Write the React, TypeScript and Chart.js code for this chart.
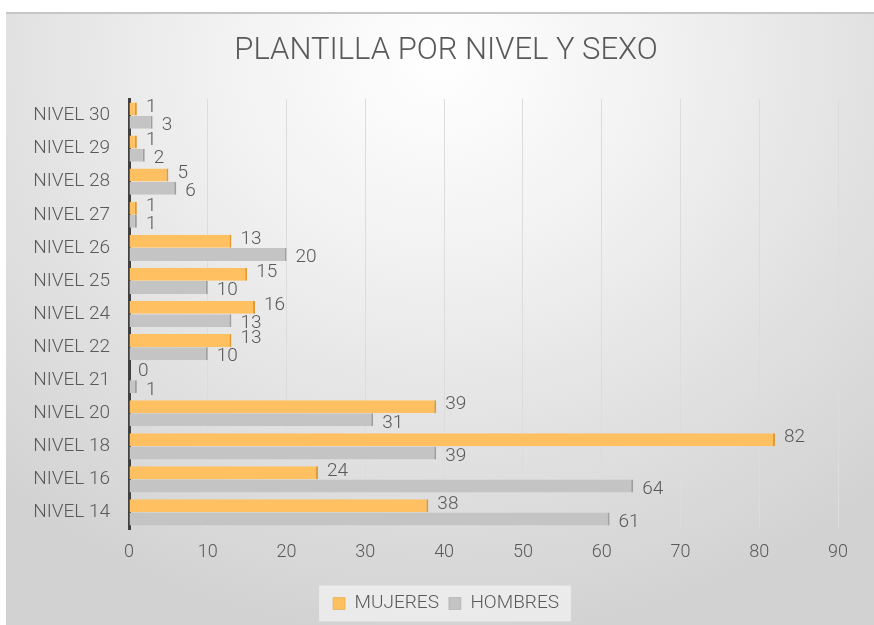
import React, { useEffect, useRef } from "react";
import { Chart, registerables } from "chart.js";

Chart.register(...registerables);

const categories = [
  "NIVEL 30", "NIVEL 29", "NIVEL 28", "NIVEL 27", "NIVEL 26", "NIVEL 25", "NIVEL 24",
  "NIVEL 22", "NIVEL 21", "NIVEL 20", "NIVEL 18", "NIVEL 16", "NIVEL 14",
];
const mujeres = [1, 1, 5, 1, 13, 15, 16, 13, 0, 39, 82, 24, 38];
const hombres = [3, 2, 6, 1, 20, 10, 13, 10, 1, 31, 39, 64, 61];
const xTicks = [0, 10, 20, 30, 40, 50, 60, 70, 80, 90];
const title = "PLANTILLA POR NIVEL Y SEXO";
const seriesNames = ["MUJERES", "HOMBRES"];

const TEXT = "#595959";
const FONT = "Roboto, 'Liberation Sans', sans-serif";

const labelPlugin = {
  id: "barLabels",
  afterDatasetsDraw(chart: any) {
    const ctx = chart.ctx;
    ctx.save();
    ctx.font = `300 19px ${FONT}`;
    ctx.fillStyle = TEXT;
    ctx.textAlign = "left";
    ctx.textBaseline = "middle";
    chart.data.datasets.forEach((ds: any, di: number) => {
      const meta = chart.getDatasetMeta(di);
      meta.data.forEach((bar: any, i: number) => {
        const v = ds.data[i];
        const dy = di === 0 ? -2 : 3;
        ctx.fillText(String(v), bar.x + 9, bar.y + dy);
      });
    });
    ctx.restore();
  },
};

const titlePlugin = {
  id: "manualTitle",
  afterDraw(chart: any) {
    const ctx = chart.ctx;
    ctx.save();
    ctx.font = `300 31px ${FONT}`;
    ctx.fillStyle = TEXT;
    ctx.textAlign = "center";
    ctx.textBaseline = "middle";
    ctx.fillText(title, chart.width / 2 + 6, 39);
    ctx.restore();
  },
};

const legendBgPlugin = {
  id: "legendBg",
  beforeDraw(chart: any) {
    const lg = chart.legend;
    if (!lg || !lg.legendHitBoxes || !lg.legendHitBoxes.length) return;
    const boxes = lg.legendHitBoxes;
    const first = boxes[0];
    const last = boxes[boxes.length - 1];
    const ctx = chart.ctx;
    ctx.save();
    ctx.fillStyle = "rgba(242,242,242,0.75)";
    const x0 = first.left - 14;
    const x1 = last.left + last.width + 12;
    const yc = first.top + first.height / 2;
    ctx.fillRect(x0, yc - 18, x1 - x0, 36);
    ctx.restore();
  },
};

export default function App() {
  const ref = useRef<HTMLCanvasElement | null>(null);

  useEffect(() => {
    document.body.style.margin = "0";
    const canvas = ref.current;
    if (!canvas) return;
    const chart = new Chart(canvas, {
      type: "bar",
      data: {
        labels: categories,
        datasets: [
          {
            label: seriesNames[0],
            data: mujeres,
            backgroundColor: "#FFC061",
            borderColor: "#E09A30",
            borderWidth: { top: 0, right: 2, bottom: 0, left: 0 },
            borderSkipped: false,
            categoryPercentage: 0.8,
            barPercentage: 0.98,
          },
          {
            label: seriesNames[1],
            data: hombres,
            backgroundColor: "#C4C4C4",
            borderColor: "#9E9E9E",
            borderWidth: { top: 0, right: 2, bottom: 0, left: 0 },
            borderSkipped: false,
            categoryPercentage: 0.8,
            barPercentage: 0.98,
          },
        ],
      },
      options: {
        indexAxis: "y",
        animation: false,
        responsive: false,
        devicePixelRatio: 1,
        layout: { padding: { left: 12, right: 0, top: 87, bottom: 2 } },
        plugins: {
          title: { display: false },
          legend: {
            position: "bottom",
            labels: {
              color: TEXT,
              font: { family: FONT, size: 19, weight: "300" as any },
              boxWidth: 12,
              boxHeight: 12,
              padding: 10,
            },
          },
          tooltip: { enabled: false },
        },
        scales: {
          x: {
            min: 0,
            max: 90,
            afterBuildTicks(scale: any) {
              scale.ticks = xTicks.map((v) => ({ value: v }));
            },
            afterFit(scale: any) {
              scale.height = 55;
            },
            ticks: {
              color: TEXT,
              font: { family: FONT, size: 18, weight: "300" as any },
              padding: 13,
            },
            grid: { color: "#dcdcdc", lineWidth: 1, drawTicks: false },
            border: { display: false },
          },
          y: {
            afterFit(scale: any) {
              scale.width = 111;
            },
            ticks: {
              color: TEXT,
              font: { family: FONT, size: 19, weight: "300" as any },
              padding: 11,
            },
            grid: { display: false },
            border: { display: true, color: "#404040", width: 3 },
          },
          yRight: {
            position: "right",
            display: true,
            afterFit(scale: any) {
              scale.width = 36;
            },
            ticks: { display: false },
            grid: { display: false },
            border: { display: false },
          },
        },
      },
      plugins: [labelPlugin, legendBgPlugin, titlePlugin],
    });
    return () => chart.destroy();
  }, []);

  return (
    <div style={{ position: "relative", width: 874, height: 625, background: "#ffffff" }}>
      <div
        style={{
          position: "absolute",
          left: 6,
          top: 12,
          width: 868,
          height: 613,
          background:
            "radial-gradient(ellipse 75% 95% at 50% 8%, #ffffff 0%, #f1f1f1 35%, #e2e2e2 65%, #d2d2d2 100%)",
        }}
      >
        <canvas ref={ref} width={868} height={613} style={{ display: "block" }} />
        <div
          style={{
            position: "absolute",
            left: 0,
            top: 0,
            width: 868,
            height: 2,
            background: "#c6c6c6",
          }}
        />
      </div>
    </div>
  );
}
